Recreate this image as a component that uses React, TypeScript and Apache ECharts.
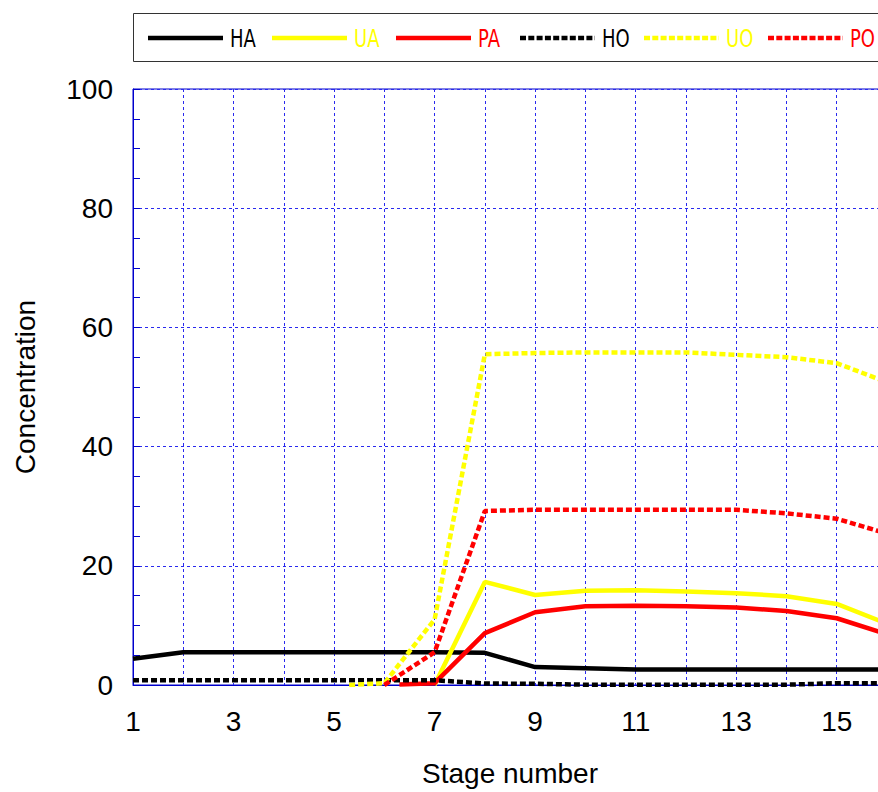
import React, { useEffect, useRef } from "react";
import * as echarts from "echarts";

// Stage / concentration data
const haData = [[1, 4.4], [2, 5.5], [3, 5.5], [4, 5.5], [5, 5.5], [6, 5.5], [7, 5.5], [8, 5.4], [9, 3.0], [10, 2.8], [11, 2.6], [12, 2.6], [13, 2.6], [14, 2.6], [15, 2.6], [16, 2.6]];
const uaData = [[7, 0], [8, 17.3], [9, 15.1], [10, 15.8], [11, 15.9], [12, 15.7], [13, 15.4], [14, 14.9], [15, 13.6], [16, 10.3]];
const paData = [[6.3, 0.1], [7, 0.3], [8, 8.7], [9, 12.2], [10, 13.2], [11, 13.3], [12, 13.2], [13, 13.0], [14, 12.4], [15, 11.2], [16, 8.5]];
const hoData = [[1, 0.8], [2, 0.8], [3, 0.8], [4, 0.8], [5, 0.8], [6, 0.8], [7, 0.8], [8, 0.25], [9, 0.2], [10, 0.05], [11, 0.05], [12, 0.05], [13, 0.05], [14, 0.05], [15, 0.3], [16, 0.3]];
const uoData = [[5.3, 0], [6, 0.3], [7, 11], [8, 55.5], [9, 55.7], [10, 55.8], [11, 55.8], [12, 55.8], [13, 55.4], [14, 55.0], [15, 54.0], [16, 50.8]];
const poData = [[6, 0], [7, 5.5], [8, 29.2], [9, 29.4], [10, 29.4], [11, 29.4], [12, 29.4], [13, 29.4], [14, 28.8], [15, 27.9], [16, 25.4]];

const seriesNames = ["HA", "UA", "PA", "HO", "UO", "PO"];
const seriesColors = ["#000000", "#ffff00", "#ff0000", "#000000", "#ffff00", "#ff0000"];
const seriesDashed = [false, false, false, true, true, true];
const seriesData = [haData, uaData, paData, hoData, uoData, poData];

const xMin = 1;
const xMax = 16;
const yMin = 0;
const yMax = 100;

export default function App() {
  const ref = useRef<HTMLDivElement>(null);

  useEffect(() => {
    if (!ref.current) return;
    const chart = echarts.init(ref.current, null, { renderer: "svg" });

    const legendStartX = 148;
    const legendStep = 124;
    const legendLineLen = 75;
    const legendY = 38;
    const legendGraphics: any[] = [
      {
        type: "rect",
        shape: { x: 133.5, y: 13.5, width: 800, height: 48 },
        style: { fill: "#ffffff", stroke: "#333333", lineWidth: 1 },
        z: 10,
      },
    ];
    seriesNames.forEach((name, i) => {
      const x0 = legendStartX + i * legendStep;
      legendGraphics.push({
        type: "line",
        shape: { x1: x0, y1: legendY, x2: x0 + legendLineLen, y2: legendY },
        style: {
          stroke: seriesColors[i],
          lineWidth: 4.5,
          lineDash: seriesDashed[i] ? [6, 2.3] : null,
          lineCap: "butt",
        },
        z: 11,
      });
      legendGraphics.push({
        type: "text",
        x: x0 + legendLineLen + 7,
        y: legendY,
        scaleX: 0.72,
        style: {
          text: name,
          fill: seriesColors[i],
          fontSize: 25,
          fontFamily: "DejaVu Sans",
          verticalAlign: "middle",
          align: "left",
        },
        z: 11,
      });
    });

    const labelFont = "Liberation Sans";

    chart.setOption({
      animation: false,
      backgroundColor: "#ffffff",
      grid: {
        left: 133,
        right: 0,
        top: 89,
        bottom: 102,
        show: true,
        borderColor: "#0000cc",
        borderWidth: 1,
        backgroundColor: "transparent",
      },
      xAxis: {
        type: "value",
        min: xMin,
        max: xMax,
        interval: 1,
        name: "Stage number",
        nameLocation: "middle",
        nameGap: 74,
        nameTextStyle: { fontSize: 28, fontFamily: labelFont, color: "#000" },
        axisLine: { show: true, lineStyle: { color: "#0000cc", width: 1 } },
        axisTick: { show: false },
        axisLabel: {
          fontSize: 28,
          fontFamily: labelFont,
          color: "#000",
          margin: 22,
          formatter: (v: number) => (Math.round(v) % 2 === 1 ? String(Math.round(v)) : ""),
        },
        splitLine: { show: true, lineStyle: { color: "#2a2aee", width: 1, type: [3, 3] } },
      },
      yAxis: {
        type: "value",
        min: yMin,
        max: yMax,
        interval: 20,
        name: "Concentration",
        nameLocation: "middle",
        nameGap: 94,
        nameRotate: 90,
        nameTextStyle: { fontSize: 28, fontFamily: labelFont, color: "#000" },
        axisLine: { show: true, lineStyle: { color: "#0000cc", width: 1 } },
        axisTick: { show: true, inside: true, length: 7, lineStyle: { color: "#0000cc" } },
        minorTick: { show: true, splitNumber: 4, length: 7, lineStyle: { color: "#0000cc" } },
        axisLabel: { fontSize: 28, fontFamily: labelFont, color: "#000", margin: 20 },
        splitLine: { show: true, lineStyle: { color: "#2a2aee", width: 1, type: [3, 3] } },
      },
      graphic: legendGraphics,
      series: seriesNames.map((name, i) => ({
        name,
        type: "line",
        data: seriesData[i],
        showSymbol: false,
        symbol: "none",
        lineStyle: {
          color: seriesColors[i],
          width: 4.5,
          type: seriesDashed[i] ? [6, 3] : "solid",
          cap: "butt",
        },
        itemStyle: { color: seriesColors[i] },
        z: 3 + i,
      })),
    });

    return () => chart.dispose();
  }, []);

  return (
    <div
      style={{
        position: "fixed",
        left: 0,
        top: 0,
        width: 878,
        height: 792,
        overflow: "hidden",
        background: "#fff",
      }}
    >
      <div ref={ref} style={{ width: 890, height: 792 }} />
    </div>
  );
}
